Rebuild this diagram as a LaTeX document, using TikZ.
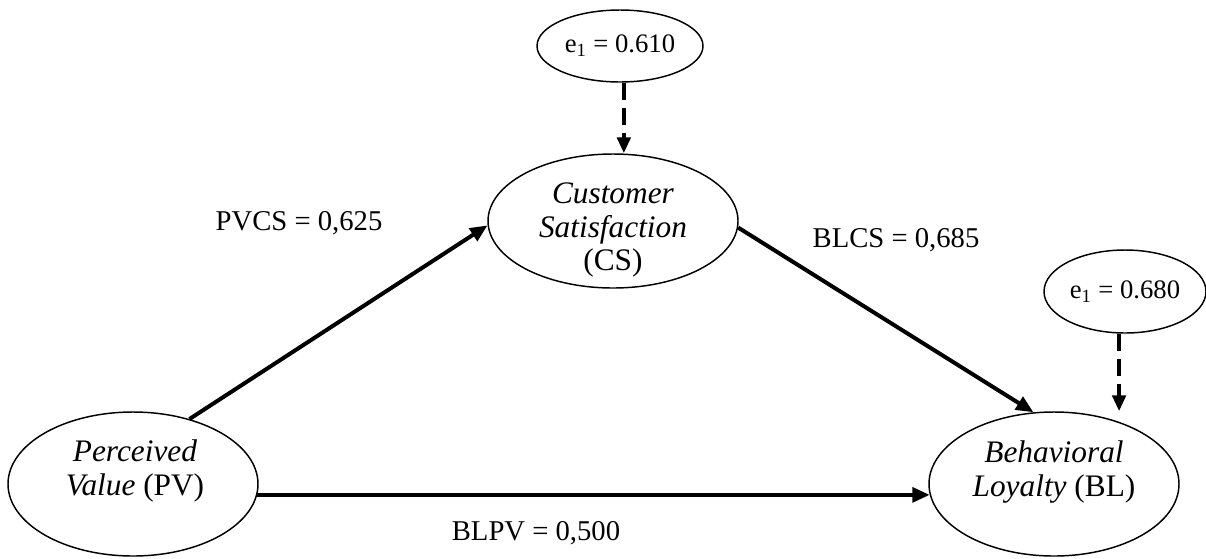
\documentclass[tikz,border=0pt]{standalone}
\usepackage{fontspec}
\setmainfont{Liberation Serif}
\usetikzlibrary{shapes.geometric,arrows.meta}
\begin{document}
\begin{tikzpicture}[x=0.75pt,y=-0.75pt,
  construct/.style={draw,ellipse,line width=1.1pt,inner sep=0pt},
  errorterm/.style={draw,ellipse,line width=1.1pt,inner sep=0pt,font=\fontsize{20}{24}\selectfont},
  lbl/.style={font=\fontsize{23.5}{26}\selectfont,align=center,inner sep=0pt},
  coef/.style={font=\fontsize{21.5}{25}\selectfont,inner sep=0pt},
  path/.style={line width=3pt,-{Triangle[length=13pt,width=11pt]}},
  errpath/.style={line width=3pt,dash pattern=on 12.75pt off 6pt,-{Triangle[length=12pt,width=10pt]}}
]
\useasboundingbox (0,0) rectangle (1206,558);

% latent constructs
\node[construct,minimum width=250*0.75pt,minimum height=144*0.75pt] (PV) at (133,484) {};
\node[construct,minimum width=250*0.75pt,minimum height=134*0.75pt] (CS) at (613,221) {};
\node[construct,minimum width=250*0.75pt,minimum height=144*0.75pt] (BL) at (1054,484) {};

\node[lbl] (PVt) at (135,471) {\textit{Perceived}\\\textit{Value} (PV)};
\node[lbl,font=\fontsize{23.5}{25}\selectfont] (CSt) at (613,230) {\textit{Customer}\\\textit{Satisfaction}\\(CS)};
\node[lbl] (BLt) at (1054,472) {\textit{Behavioral}\\\textit{Loyalty} (BL)};

% error terms
\node[errorterm,minimum width=166*0.75pt,minimum height=72*0.75pt] (E1) at (620,46) {e\textsubscript{1} = 0.610};
\node[errorterm,minimum width=162*0.75pt,minimum height=83*0.75pt] (E2) at (1125,291.5) {e\textsubscript{1} = 0.680};

% structural paths
\draw[path] (PV.49) -- (CS.182.7);
\draw[path] (CS.-3) -- (BL.106);
\draw[path] (PV.-5) -- (BL.185);

% error paths
\draw[errpath] (E1.-84) -- (E1.-84 |- CS.north);
\draw[errpath] (E2.-98) -- (E2.-98 |- BL.north);

% path coefficients
\node[coef] (c1) at (299,223) {PVCS = 0,625};
\node[coef] (c2) at (896,240) {BLCS = 0,685};
\node[coef] (c3) at (536,533) {BLPV = 0,500};
\end{tikzpicture}
\end{document}
